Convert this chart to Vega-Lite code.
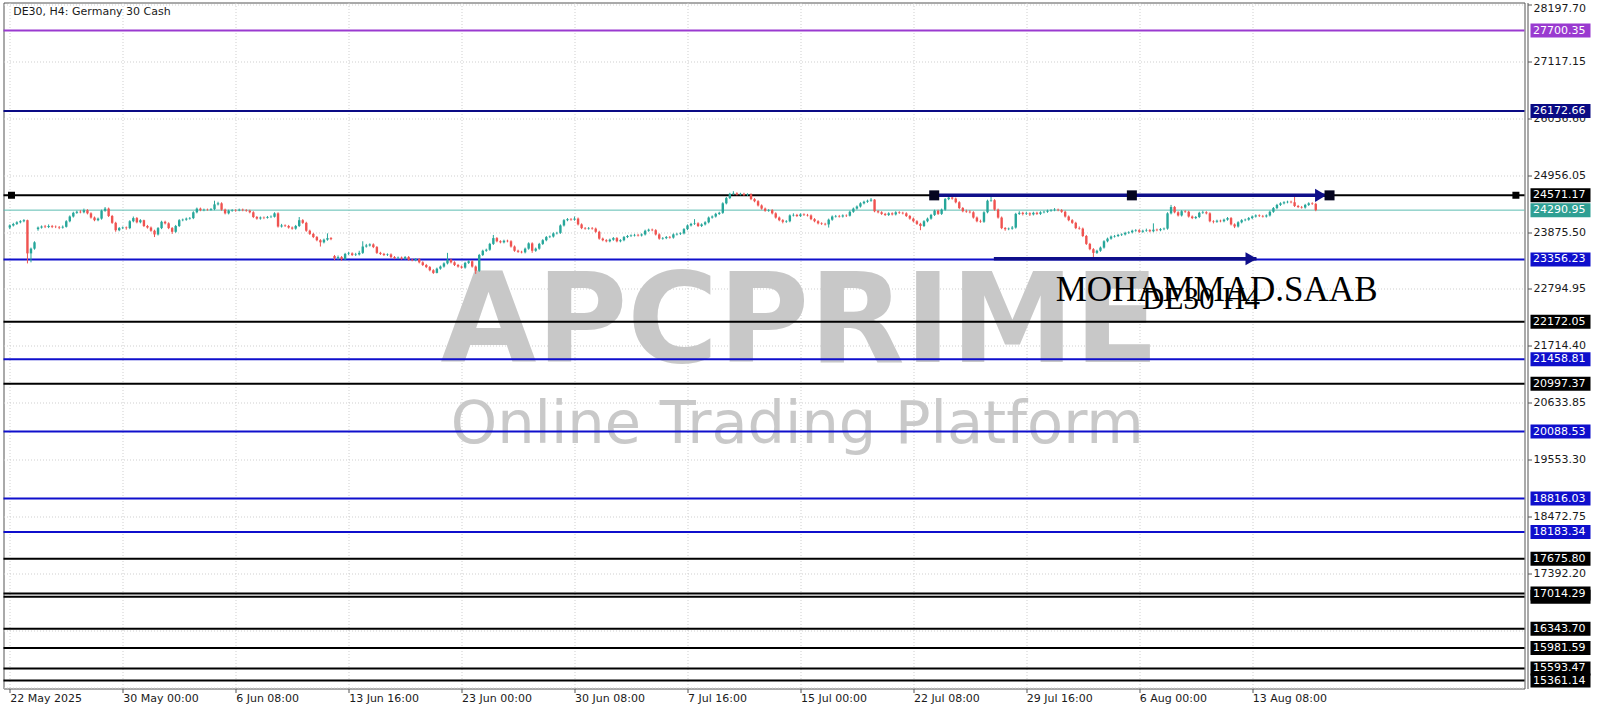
{
"$schema": "https://vega.github.io/schema/vega-lite/v6.json",
"background": "#ffffff",
"padding": {"left": 1.5, "top": 1.5, "right": 0, "bottom": 0},
"spacing": 0,
"config": {"view": {"stroke": null}, "font": "DejaVu Sans"},
"resolve": {"scale": {"x": "independent", "y": "independent"}},
"datasets": {
"levels": [
{"p":27700.35,"k":"purple"},{"p":26172.66,"k":"navy"},{"p":24571.17,"k":"black"},{"p":24290.95,"k":"bid"},{"p":23356.23,"k":"blue"},{"p":22172.05,"k":"black"},{"p":21458.81,"k":"blue"},{"p":20997.37,"k":"black"},{"p":20088.53,"k":"blue"},{"p":18816.03,"k":"blue"},{"p":18183.34,"k":"blue"},{"p":17675.80,"k":"black"},{"p":16955.00,"k":"black"},{"p":17014.29,"k":"black"},{"p":16343.70,"k":"black"},{"p":15981.59,"k":"black"},{"p":15593.47,"k":"black"},{"p":15361.14,"k":"black"}
],
"arrows": [{"x1":261.9,"x2":373.9,"p":24571.17},{"x1":278.8,"x2":353.2,"p":23370}],
"heads": [{"x":371.4,"p":24571.17},{"x":351.7,"p":23370}],
"handles": [{"x":261.9,"p":24571.17},{"x":317.9,"p":24571.17},{"x":373.9,"p":24571.17}],
"edges": [{"x":0.48,"p":24571.17},{"x":426.7,"p":24571.17}],
"candles": [
{"i":0,"o":23960,"h":24020,"l":23930,"c":24000},{"i":1,"o":24000,"h":24050,"l":23980,"c":24030},{"i":2,"o":24030,"h":24080,"l":24010,"c":24060},{"i":3,"o":24060,"h":24100,"l":24040,"c":24080},{"i":4,"o":24080,"h":24120,"l":24060,"c":24100},{"i":5,"o":24100,"h":24110,"l":23280,"c":23470},{"i":6,"o":23470,"h":23580,"l":23300,"c":23560},{"i":7,"o":23560,"h":23700,"l":23540,"c":23680},{"i":8,"o":23930,"h":23980,"l":23900,"c":23960},{"i":9,"o":23960,"h":24000,"l":23940,"c":23980},
{"i":10,"o":23980,"h":24010,"l":23950,"c":23970},{"i":11,"o":23970,"h":24020,"l":23950,"c":23990},{"i":12,"o":23990,"h":24010,"l":23950,"c":23975},{"i":13,"o":23975,"h":24000,"l":23950,"c":23970},{"i":14,"o":23970,"h":23990,"l":23930,"c":23960},{"i":15,"o":23960,"h":24000,"l":23940,"c":23975},{"i":16,"o":23975,"h":24100,"l":23960,"c":24080},{"i":17,"o":24080,"h":24190,"l":24060,"c":24170},{"i":18,"o":24170,"h":24260,"l":24150,"c":24240},{"i":19,"o":24240,"h":24280,"l":24220,"c":24260},
{"i":20,"o":24260,"h":24290,"l":24230,"c":24250},{"i":21,"o":24250,"h":24320,"l":24230,"c":24290},{"i":22,"o":24290,"h":24310,"l":24210,"c":24230},{"i":23,"o":24230,"h":24250,"l":24130,"c":24150},{"i":24,"o":24150,"h":24170,"l":24080,"c":24100},{"i":25,"o":24100,"h":24150,"l":24080,"c":24130},{"i":26,"o":24130,"h":24300,"l":24110,"c":24280},{"i":27,"o":24280,"h":24350,"l":24260,"c":24320},{"i":28,"o":24320,"h":24340,"l":24160,"c":24180},{"i":29,"o":24180,"h":24200,"l":24030,"c":24050},
{"i":30,"o":24050,"h":24070,"l":23880,"c":23910},{"i":31,"o":23910,"h":23970,"l":23890,"c":23950},{"i":32,"o":23950,"h":23980,"l":23930,"c":23960},{"i":33,"o":23960,"h":23980,"l":23920,"c":23950},{"i":34,"o":23950,"h":24100,"l":23930,"c":24080},{"i":35,"o":24080,"h":24170,"l":24060,"c":24140},{"i":36,"o":24140,"h":24160,"l":24040,"c":24060},{"i":37,"o":24060,"h":24120,"l":24040,"c":24100},{"i":38,"o":24100,"h":24110,"l":23970,"c":23990},{"i":39,"o":23990,"h":24010,"l":23940,"c":23960},
{"i":40,"o":23960,"h":23980,"l":23880,"c":23900},{"i":41,"o":23900,"h":23920,"l":23780,"c":23830},{"i":42,"o":23830,"h":23970,"l":23810,"c":23950},{"i":43,"o":23950,"h":24090,"l":23930,"c":24070},{"i":44,"o":24070,"h":24090,"l":24020,"c":24040},{"i":45,"o":24040,"h":24060,"l":23930,"c":23950},{"i":46,"o":23950,"h":23970,"l":23840,"c":23880},{"i":47,"o":23880,"h":24010,"l":23860,"c":23990},{"i":48,"o":23990,"h":24120,"l":23970,"c":24100},{"i":49,"o":24100,"h":24130,"l":24080,"c":24110},
{"i":50,"o":24110,"h":24150,"l":24090,"c":24130},{"i":51,"o":24130,"h":24160,"l":24110,"c":24140},{"i":52,"o":24140,"h":24270,"l":24120,"c":24250},{"i":53,"o":24250,"h":24340,"l":24230,"c":24320},{"i":54,"o":24320,"h":24340,"l":24270,"c":24290},{"i":55,"o":24290,"h":24320,"l":24270,"c":24300},{"i":56,"o":24300,"h":24320,"l":24280,"c":24295},{"i":57,"o":24295,"h":24330,"l":24280,"c":24310},{"i":58,"o":24310,"h":24470,"l":24290,"c":24400},{"i":59,"o":24400,"h":24450,"l":24380,"c":24420},
{"i":60,"o":24420,"h":24440,"l":24280,"c":24300},{"i":61,"o":24300,"h":24320,"l":24210,"c":24230},{"i":62,"o":24230,"h":24300,"l":24210,"c":24280},{"i":63,"o":24280,"h":24310,"l":24260,"c":24290},{"i":64,"o":24290,"h":24310,"l":24260,"c":24285},{"i":65,"o":24285,"h":24320,"l":24270,"c":24300},{"i":66,"o":24300,"h":24320,"l":24270,"c":24290},{"i":67,"o":24290,"h":24310,"l":24260,"c":24280},{"i":68,"o":24280,"h":24300,"l":24230,"c":24250},{"i":69,"o":24250,"h":24270,"l":24140,"c":24160},
{"i":70,"o":24160,"h":24180,"l":24110,"c":24130},{"i":71,"o":24130,"h":24170,"l":24110,"c":24150},{"i":72,"o":24150,"h":24170,"l":24120,"c":24145},{"i":73,"o":24145,"h":24180,"l":24130,"c":24160},{"i":74,"o":24160,"h":24190,"l":24140,"c":24165},{"i":75,"o":24165,"h":24250,"l":24150,"c":24230},{"i":76,"o":24230,"h":24250,"l":23960,"c":23980},{"i":77,"o":23980,"h":24030,"l":23960,"c":24000},{"i":78,"o":24000,"h":24020,"l":23970,"c":23990},{"i":79,"o":23990,"h":24010,"l":23940,"c":23960},
{"i":80,"o":23960,"h":23980,"l":23920,"c":23940},{"i":81,"o":23940,"h":24010,"l":23920,"c":23990},{"i":82,"o":23990,"h":24160,"l":23970,"c":24100},{"i":83,"o":24100,"h":24120,"l":24030,"c":24050},{"i":84,"o":24050,"h":24070,"l":23880,"c":23900},{"i":85,"o":23900,"h":23920,"l":23820,"c":23840},{"i":86,"o":23840,"h":23860,"l":23760,"c":23780},{"i":87,"o":23780,"h":23800,"l":23700,"c":23720},{"i":88,"o":23720,"h":23740,"l":23600,"c":23680},{"i":89,"o":23680,"h":23750,"l":23660,"c":23730},
{"i":90,"o":23730,"h":23850,"l":23710,"c":23760},{"i":91,"o":23760,"h":23780,"l":23720,"c":23740},{"i":92,"o":23420,"h":23440,"l":23340,"c":23380},{"i":93,"o":23380,"h":23430,"l":23350,"c":23400},{"i":94,"o":23400,"h":23420,"l":23330,"c":23360},{"i":95,"o":23360,"h":23480,"l":23340,"c":23460},{"i":96,"o":23460,"h":23500,"l":23440,"c":23470},{"i":97,"o":23470,"h":23490,"l":23420,"c":23440},{"i":98,"o":23440,"h":23480,"l":23420,"c":23450},{"i":99,"o":23450,"h":23520,"l":23430,"c":23480},
{"i":100,"o":23480,"h":23700,"l":23460,"c":23600},{"i":101,"o":23600,"h":23650,"l":23580,"c":23620},{"i":102,"o":23620,"h":23660,"l":23600,"c":23640},{"i":103,"o":23640,"h":23660,"l":23570,"c":23590},{"i":104,"o":23590,"h":23610,"l":23460,"c":23480},{"i":105,"o":23480,"h":23500,"l":23440,"c":23460},{"i":106,"o":23460,"h":23480,"l":23420,"c":23440},{"i":107,"o":23440,"h":23470,"l":23420,"c":23450},{"i":108,"o":23450,"h":23470,"l":23380,"c":23400},{"i":109,"o":23400,"h":23420,"l":23360,"c":23380},
{"i":110,"o":23380,"h":23410,"l":23360,"c":23390},{"i":111,"o":23390,"h":23410,"l":23350,"c":23370},{"i":112,"o":23370,"h":23420,"l":23350,"c":23400},{"i":113,"o":23400,"h":23420,"l":23330,"c":23350},{"i":114,"o":23350,"h":23370,"l":23320,"c":23340},{"i":115,"o":23340,"h":23380,"l":23320,"c":23360},{"i":116,"o":23360,"h":23380,"l":23280,"c":23300},{"i":117,"o":23300,"h":23320,"l":23230,"c":23250},{"i":118,"o":23250,"h":23270,"l":23190,"c":23210},{"i":119,"o":23210,"h":23230,"l":23130,"c":23150},
{"i":120,"o":23150,"h":23170,"l":23080,"c":23100},{"i":121,"o":23100,"h":23200,"l":23090,"c":23180},{"i":122,"o":23180,"h":23240,"l":23160,"c":23220},{"i":123,"o":23220,"h":23300,"l":23200,"c":23280},{"i":124,"o":23280,"h":23480,"l":23260,"c":23350},{"i":125,"o":23350,"h":23370,"l":23280,"c":23300},{"i":126,"o":23300,"h":23320,"l":23230,"c":23250},{"i":127,"o":23250,"h":23270,"l":23200,"c":23220},{"i":128,"o":23220,"h":23240,"l":23180,"c":23200},{"i":129,"o":23200,"h":23310,"l":23180,"c":23290},
{"i":130,"o":23290,"h":23340,"l":23270,"c":23320},{"i":131,"o":23320,"h":23340,"l":23200,"c":23220},{"i":132,"o":23220,"h":23240,"l":23080,"c":23140},{"i":133,"o":23140,"h":23460,"l":23120,"c":23440},{"i":134,"o":23440,"h":23540,"l":23420,"c":23520},{"i":135,"o":23520,"h":23560,"l":23500,"c":23540},{"i":136,"o":23540,"h":23670,"l":23520,"c":23650},{"i":137,"o":23650,"h":23820,"l":23630,"c":23760},{"i":138,"o":23760,"h":23780,"l":23680,"c":23700},{"i":139,"o":23700,"h":23720,"l":23660,"c":23680},
{"i":140,"o":23680,"h":23730,"l":23660,"c":23710},{"i":141,"o":23710,"h":23730,"l":23680,"c":23700},{"i":142,"o":23700,"h":23720,"l":23580,"c":23600},{"i":143,"o":23600,"h":23620,"l":23500,"c":23520},{"i":144,"o":23520,"h":23540,"l":23480,"c":23500},{"i":145,"o":23500,"h":23520,"l":23470,"c":23490},{"i":146,"o":23490,"h":23580,"l":23470,"c":23560},{"i":147,"o":23560,"h":23680,"l":23540,"c":23660},{"i":148,"o":23660,"h":23680,"l":23480,"c":23520},{"i":149,"o":23520,"h":23580,"l":23500,"c":23560},
{"i":150,"o":23560,"h":23670,"l":23540,"c":23650},{"i":151,"o":23650,"h":23740,"l":23630,"c":23720},{"i":152,"o":23720,"h":23800,"l":23700,"c":23780},{"i":153,"o":23780,"h":23810,"l":23760,"c":23790},{"i":154,"o":23790,"h":23870,"l":23770,"c":23850},{"i":155,"o":23850,"h":23880,"l":23830,"c":23860},{"i":156,"o":23860,"h":24020,"l":23840,"c":24000},{"i":157,"o":24000,"h":24120,"l":23980,"c":24100},{"i":158,"o":24100,"h":24140,"l":24080,"c":24120},{"i":159,"o":24120,"h":24140,"l":24090,"c":24110},
{"i":160,"o":24110,"h":24170,"l":24090,"c":24130},{"i":161,"o":24130,"h":24150,"l":24000,"c":24020},{"i":162,"o":24020,"h":24040,"l":23930,"c":23950},{"i":163,"o":23950,"h":23970,"l":23920,"c":23940},{"i":164,"o":23940,"h":23970,"l":23920,"c":23950},{"i":165,"o":23950,"h":23970,"l":23920,"c":23940},{"i":166,"o":23940,"h":23960,"l":23860,"c":23880},{"i":167,"o":23880,"h":23900,"l":23730,"c":23750},{"i":168,"o":23750,"h":23770,"l":23700,"c":23720},{"i":169,"o":23720,"h":23740,"l":23680,"c":23700},
{"i":170,"o":23700,"h":23750,"l":23680,"c":23730},{"i":171,"o":23730,"h":23780,"l":23710,"c":23760},{"i":172,"o":23760,"h":23780,"l":23680,"c":23700},{"i":173,"o":23700,"h":23740,"l":23680,"c":23720},{"i":174,"o":23720,"h":23800,"l":23700,"c":23780},{"i":175,"o":23780,"h":23820,"l":23760,"c":23800},{"i":176,"o":23800,"h":23830,"l":23780,"c":23810},{"i":177,"o":23810,"h":23840,"l":23790,"c":23820},{"i":178,"o":23820,"h":23840,"l":23790,"c":23810},{"i":179,"o":23810,"h":23850,"l":23790,"c":23830},
{"i":180,"o":23830,"h":23920,"l":23810,"c":23900},{"i":181,"o":23900,"h":23940,"l":23880,"c":23920},{"i":182,"o":23920,"h":23940,"l":23890,"c":23910},{"i":183,"o":23910,"h":23930,"l":23810,"c":23830},{"i":184,"o":23830,"h":23850,"l":23730,"c":23750},{"i":185,"o":23750,"h":23780,"l":23730,"c":23760},{"i":186,"o":23760,"h":23800,"l":23740,"c":23780},{"i":187,"o":23780,"h":23800,"l":23750,"c":23770},{"i":188,"o":23770,"h":23850,"l":23750,"c":23830},{"i":189,"o":23830,"h":23860,"l":23810,"c":23840},
{"i":190,"o":23840,"h":23870,"l":23820,"c":23850},{"i":191,"o":23850,"h":23950,"l":23830,"c":23930},{"i":192,"o":23930,"h":24020,"l":23910,"c":24000},{"i":193,"o":24000,"h":24050,"l":23980,"c":24030},{"i":194,"o":24030,"h":24120,"l":24010,"c":24040},{"i":195,"o":24040,"h":24060,"l":23970,"c":23990},{"i":196,"o":23990,"h":24040,"l":23970,"c":24020},{"i":197,"o":24020,"h":24080,"l":24000,"c":24060},{"i":198,"o":24060,"h":24170,"l":24040,"c":24150},{"i":199,"o":24150,"h":24190,"l":24130,"c":24170},
{"i":200,"o":24170,"h":24240,"l":24150,"c":24220},{"i":201,"o":24220,"h":24260,"l":24200,"c":24240},{"i":202,"o":24240,"h":24440,"l":24220,"c":24420},{"i":203,"o":24420,"h":24540,"l":24400,"c":24520},{"i":204,"o":24520,"h":24620,"l":24500,"c":24600},{"i":205,"o":24600,"h":24650,"l":24580,"c":24610},{"i":206,"o":24610,"h":24630,"l":24570,"c":24590},{"i":207,"o":24590,"h":24620,"l":24570,"c":24600},{"i":208,"o":24600,"h":24620,"l":24560,"c":24580},{"i":209,"o":24580,"h":24610,"l":24560,"c":24590},
{"i":210,"o":24590,"h":24610,"l":24480,"c":24500},{"i":211,"o":24500,"h":24520,"l":24440,"c":24460},{"i":212,"o":24460,"h":24480,"l":24360,"c":24380},{"i":213,"o":24380,"h":24400,"l":24300,"c":24320},{"i":214,"o":24320,"h":24340,"l":24260,"c":24280},{"i":215,"o":24280,"h":24310,"l":24260,"c":24290},{"i":216,"o":24290,"h":24310,"l":24210,"c":24230},{"i":217,"o":24230,"h":24250,"l":24130,"c":24150},{"i":218,"o":24150,"h":24170,"l":24080,"c":24100},{"i":219,"o":24100,"h":24120,"l":24040,"c":24070},
{"i":220,"o":24070,"h":24100,"l":24050,"c":24080},{"i":221,"o":24080,"h":24210,"l":24060,"c":24190},{"i":222,"o":24190,"h":24230,"l":24170,"c":24200},{"i":223,"o":24200,"h":24220,"l":24160,"c":24180},{"i":224,"o":24180,"h":24230,"l":24160,"c":24210},{"i":225,"o":24210,"h":24230,"l":24180,"c":24200},{"i":226,"o":24200,"h":24220,"l":24170,"c":24190},{"i":227,"o":24190,"h":24210,"l":24100,"c":24120},{"i":228,"o":24120,"h":24140,"l":24060,"c":24080},{"i":229,"o":24080,"h":24100,"l":24020,"c":24040},
{"i":230,"o":24040,"h":24060,"l":24010,"c":24030},{"i":231,"o":24030,"h":24050,"l":24000,"c":24020},{"i":232,"o":24020,"h":24130,"l":23960,"c":24110},{"i":233,"o":24110,"h":24190,"l":24090,"c":24170},{"i":234,"o":24170,"h":24200,"l":24150,"c":24180},{"i":235,"o":24180,"h":24200,"l":24150,"c":24170},{"i":236,"o":24170,"h":24210,"l":24150,"c":24190},{"i":237,"o":24190,"h":24210,"l":24160,"c":24185},{"i":238,"o":24185,"h":24280,"l":24170,"c":24260},{"i":239,"o":24260,"h":24340,"l":24240,"c":24320},
{"i":240,"o":24320,"h":24380,"l":24300,"c":24360},{"i":241,"o":24360,"h":24440,"l":24340,"c":24420},{"i":242,"o":24420,"h":24470,"l":24400,"c":24450},{"i":243,"o":24450,"h":24490,"l":24430,"c":24470},{"i":244,"o":24470,"h":24520,"l":24450,"c":24490},{"i":245,"o":24490,"h":24500,"l":24250,"c":24270},{"i":246,"o":24270,"h":24290,"l":24230,"c":24250},{"i":247,"o":24250,"h":24270,"l":24200,"c":24220},{"i":248,"o":24220,"h":24240,"l":24180,"c":24200},{"i":249,"o":24200,"h":24250,"l":24180,"c":24230},
{"i":250,"o":24230,"h":24250,"l":24190,"c":24210},{"i":251,"o":24210,"h":24270,"l":24190,"c":24250},{"i":252,"o":24250,"h":24270,"l":24220,"c":24240},{"i":253,"o":24240,"h":24260,"l":24210,"c":24230},{"i":254,"o":24230,"h":24250,"l":24160,"c":24180},{"i":255,"o":24180,"h":24200,"l":24110,"c":24130},{"i":256,"o":24130,"h":24150,"l":24060,"c":24080},{"i":257,"o":24080,"h":24100,"l":24010,"c":24030},{"i":258,"o":24030,"h":24050,"l":23910,"c":23990},{"i":259,"o":23990,"h":24100,"l":23970,"c":24080},
{"i":260,"o":24080,"h":24150,"l":24060,"c":24130},{"i":261,"o":24130,"h":24220,"l":24110,"c":24200},{"i":262,"o":24200,"h":24300,"l":24180,"c":24280},{"i":263,"o":24280,"h":24300,"l":24200,"c":24220},{"i":264,"o":24220,"h":24320,"l":24200,"c":24300},{"i":265,"o":24300,"h":24520,"l":24280,"c":24500},{"i":266,"o":24500,"h":24580,"l":24480,"c":24530},{"i":267,"o":24530,"h":24550,"l":24490,"c":24510},{"i":268,"o":24510,"h":24530,"l":24420,"c":24440},{"i":269,"o":24440,"h":24460,"l":24310,"c":24330},
{"i":270,"o":24330,"h":24350,"l":24250,"c":24270},{"i":271,"o":24270,"h":24300,"l":24240,"c":24260},{"i":272,"o":24260,"h":24290,"l":24230,"c":24250},{"i":273,"o":24250,"h":24270,"l":24130,"c":24150},{"i":274,"o":24150,"h":24170,"l":24060,"c":24080},{"i":275,"o":24080,"h":24110,"l":24050,"c":24070},{"i":276,"o":24070,"h":24270,"l":24050,"c":24250},{"i":277,"o":24250,"h":24490,"l":24230,"c":24470},{"i":278,"o":24470,"h":24540,"l":24450,"c":24480},{"i":279,"o":24480,"h":24500,"l":24280,"c":24300},
{"i":280,"o":24300,"h":24320,"l":24130,"c":24150},{"i":281,"o":24150,"h":24170,"l":23930,"c":23950},{"i":282,"o":23950,"h":23970,"l":23900,"c":23930},{"i":283,"o":23930,"h":23960,"l":23910,"c":23940},{"i":284,"o":23940,"h":23990,"l":23920,"c":23960},{"i":285,"o":23960,"h":24240,"l":23940,"c":24220},{"i":286,"o":24220,"h":24270,"l":24200,"c":24240},{"i":287,"o":24240,"h":24260,"l":24190,"c":24220},{"i":288,"o":24220,"h":24260,"l":24200,"c":24230},{"i":289,"o":24230,"h":24250,"l":24180,"c":24210},
{"i":290,"o":24210,"h":24260,"l":24190,"c":24240},{"i":291,"o":24240,"h":24260,"l":24200,"c":24220},{"i":292,"o":24220,"h":24270,"l":24200,"c":24250},{"i":293,"o":24250,"h":24280,"l":24230,"c":24260},{"i":294,"o":24260,"h":24300,"l":24240,"c":24280},{"i":295,"o":24280,"h":24310,"l":24260,"c":24290},{"i":296,"o":24290,"h":24330,"l":24270,"c":24300},{"i":297,"o":24300,"h":24320,"l":24270,"c":24290},{"i":298,"o":24290,"h":24310,"l":24240,"c":24260},{"i":299,"o":24260,"h":24280,"l":24150,"c":24170},
{"i":300,"o":24170,"h":24190,"l":24080,"c":24100},{"i":301,"o":24100,"h":24120,"l":24030,"c":24050},{"i":302,"o":24050,"h":24070,"l":23930,"c":23950},{"i":303,"o":23950,"h":23980,"l":23920,"c":23940},{"i":304,"o":23940,"h":23960,"l":23780,"c":23800},{"i":305,"o":23800,"h":23820,"l":23630,"c":23650},{"i":306,"o":23650,"h":23670,"l":23530,"c":23550},{"i":307,"o":23550,"h":23570,"l":23400,"c":23480},{"i":308,"o":23480,"h":23540,"l":23460,"c":23520},{"i":309,"o":23520,"h":23600,"l":23500,"c":23580},
{"i":310,"o":23580,"h":23720,"l":23560,"c":23700},{"i":311,"o":23700,"h":23770,"l":23680,"c":23750},{"i":312,"o":23750,"h":23810,"l":23730,"c":23790},{"i":313,"o":23790,"h":23820,"l":23770,"c":23800},{"i":314,"o":23800,"h":23840,"l":23780,"c":23820},{"i":315,"o":23820,"h":23850,"l":23800,"c":23830},{"i":316,"o":23830,"h":23880,"l":23810,"c":23860},{"i":317,"o":23860,"h":23890,"l":23840,"c":23870},{"i":318,"o":23870,"h":23920,"l":23850,"c":23900},{"i":319,"o":23900,"h":23930,"l":23880,"c":23910},
{"i":320,"o":23910,"h":23930,"l":23860,"c":23880},{"i":321,"o":23880,"h":23920,"l":23860,"c":23900},{"i":322,"o":23900,"h":23940,"l":23880,"c":23910},{"i":323,"o":23910,"h":23930,"l":23870,"c":23890},{"i":324,"o":23890,"h":24040,"l":23870,"c":23920},{"i":325,"o":23920,"h":23940,"l":23890,"c":23910},{"i":326,"o":23910,"h":23950,"l":23890,"c":23930},{"i":327,"o":23930,"h":23960,"l":23910,"c":23940},{"i":328,"o":23940,"h":24250,"l":23920,"c":24230},{"i":329,"o":24230,"h":24390,"l":24210,"c":24350},
{"i":330,"o":24350,"h":24370,"l":24230,"c":24250},{"i":331,"o":24250,"h":24270,"l":24170,"c":24190},{"i":332,"o":24190,"h":24290,"l":24170,"c":24270},{"i":333,"o":24270,"h":24290,"l":24240,"c":24260},{"i":334,"o":24260,"h":24280,"l":24150,"c":24170},{"i":335,"o":24170,"h":24190,"l":24120,"c":24140},{"i":336,"o":24140,"h":24180,"l":24120,"c":24160},{"i":337,"o":24160,"h":24260,"l":24140,"c":24240},{"i":338,"o":24240,"h":24280,"l":24220,"c":24250},{"i":339,"o":24250,"h":24270,"l":24210,"c":24230},
{"i":340,"o":24230,"h":24250,"l":24060,"c":24080},{"i":341,"o":24080,"h":24100,"l":24040,"c":24070},{"i":342,"o":24070,"h":24110,"l":24050,"c":24090},{"i":343,"o":24090,"h":24110,"l":24060,"c":24080},{"i":344,"o":24080,"h":24130,"l":24060,"c":24110},{"i":345,"o":24110,"h":24160,"l":24090,"c":24140},{"i":346,"o":24140,"h":24160,"l":24000,"c":24020},{"i":347,"o":24020,"h":24040,"l":23950,"c":23980},{"i":348,"o":23980,"h":24080,"l":23960,"c":24060},{"i":349,"o":24060,"h":24120,"l":24040,"c":24100},
{"i":350,"o":24100,"h":24130,"l":24080,"c":24110},{"i":351,"o":24110,"h":24160,"l":24090,"c":24140},{"i":352,"o":24140,"h":24190,"l":24120,"c":24170},{"i":353,"o":24170,"h":24210,"l":24150,"c":24190},{"i":354,"o":24190,"h":24210,"l":24160,"c":24180},{"i":355,"o":24180,"h":24200,"l":24150,"c":24170},{"i":356,"o":24170,"h":24210,"l":24150,"c":24190},{"i":357,"o":24190,"h":24280,"l":24170,"c":24260},{"i":358,"o":24260,"h":24350,"l":24240,"c":24330},{"i":359,"o":24330,"h":24410,"l":24310,"c":24390},
{"i":360,"o":24390,"h":24440,"l":24370,"c":24420},{"i":361,"o":24420,"h":24460,"l":24400,"c":24440},{"i":362,"o":24440,"h":24470,"l":24420,"c":24450},{"i":363,"o":24450,"h":24470,"l":24420,"c":24440},{"i":364,"o":24440,"h":24540,"l":24350,"c":24370},{"i":365,"o":24370,"h":24390,"l":24330,"c":24350},{"i":366,"o":24350,"h":24370,"l":24320,"c":24340},{"i":367,"o":24340,"h":24410,"l":24320,"c":24390},{"i":368,"o":24390,"h":24440,"l":24370,"c":24420},{"i":369,"o":24420,"h":24440,"l":24390,"c":24410},
{"i":370,"o":24410,"h":24430,"l":24270,"c":24290.95}
]
},
"hconcat": [
{
"width": 1521, "height": 686,
"view": {"stroke": "#555555", "strokeWidth": 1},
"layer": [
{
"data": {"values": [{}]},
"mark": {"type": "text", "text": "APCPRIME", "font": "DejaVu Sans", "fontWeight": "bold", "fontSize": 124, "color": "#c8c8c8", "align": "center", "baseline": "alphabetic"},
"encoding": {
"x": {"datum": 223.8, "type": "quantitative", "scale": {"domain": [-0.366, 427.72], "nice": false, "zero": false}},
"y": {"datum": 21399, "type": "quantitative", "scale": {"domain": [15211.5, 28231.8], "nice": false, "zero": false}}
}
},
{
"data": {"values": [{}]},
"mark": {"type": "text", "text": "Online Trading Platform", "font": "DejaVu Sans", "fontSize": 59, "color": "#c9c9c9", "align": "center", "baseline": "alphabetic"},
"encoding": {
"x": {"datum": 223.1, "type": "quantitative"},
"y": {"datum": 19880, "type": "quantitative"}
}
},
{
"data": {"name": "levels"},
"transform": [{"filter": "datum.k != 'bid'"}],
"mark": {"type": "rule", "strokeWidth": 2},
"encoding": {
"y": {"field": "p", "type": "quantitative"},
"color": {"field": "k", "type": "nominal", "scale": {"domain": ["purple", "navy", "black", "bid", "blue"], "range": ["#9a3ad0", "#0a0a84", "#000000", "#2f9f93", "#0f0fcc"]}, "legend": null}
}
},
{
"data": {"name": "levels"},
"transform": [{"filter": "datum.k == 'bid'"}],
"mark": {"type": "rule", "strokeWidth": 1, "color": "#5cbcb2"},
"encoding": {"y": {"field": "p", "type": "quantitative"}}
},
{
"data": {"name": "candles"},
"mark": {"type": "rule", "strokeWidth": 1},
"encoding": {
"x": {"field": "i", "type": "quantitative", "axis": {"values": [0, 32, 64, 96, 128, 160, 192, 224, 256, 288, 320, 352], "labelExpr": "['22 May 2025','30 May 00:00','6 Jun 08:00','13 Jun 16:00','23 Jun 00:00','30 Jun 08:00','7 Jul 16:00','15 Jul 00:00','22 Jul 08:00','29 Jul 16:00','6 Aug 00:00','13 Aug 08:00'][round(datum.value/32)]", "labelAlign": "left", "labelBaseline": "top", "labelPadding": 0, "tickSize": 4, "tickColor": "#555555", "domain": false, "grid": true, "gridDash": [1, 2], "gridColor": "#cfcfcf", "title": null, "labelFont": "DejaVu Sans", "labelFontSize": 11, "labelColor": "#1a1a1a", "labelFlush": false, "labelOverlap": false}},
"y": {"field": "l", "type": "quantitative", "axis": {"values": [28197.7, 27117.15, 26036.6, 24956.05, 23875.5, 22794.95, 21714.4, 20633.85, 19553.3, 18472.75, 17392.2, 16311.65, 15231.1], "grid": true, "gridDash": [1, 2], "gridColor": "#cfcfcf", "labels": false, "ticks": false, "domain": false, "title": null, "minExtent": 0, "maxExtent": 0}},
"y2": {"field": "h"},
"color": {"condition": {"test": "datum.c >= datum.o", "value": "#26a69a"}, "value": "#ef5350"}
}
},
{
"data": {"name": "candles"},
"mark": {"type": "bar", "width": 2.4},
"encoding": {
"x": {"field": "i", "type": "quantitative"},
"y": {"field": "o", "type": "quantitative"},
"y2": {"field": "c"},
"color": {"condition": {"test": "datum.c >= datum.o", "value": "#26a69a"}, "value": "#ef5350"}
}
},
{
"data": {"name": "arrows"},
"mark": {"type": "rule", "strokeWidth": 3.5, "color": "#0f0f8a"},
"encoding": {
"x": {"field": "x1", "type": "quantitative"},
"x2": {"field": "x2"},
"y": {"field": "p", "type": "quantitative"}
}
},
{
"data": {"name": "heads"},
"mark": {"type": "point", "shape": "triangle-right", "filled": true, "size": 170, "opacity": 1, "color": "#0f0f8a"},
"encoding": {
"x": {"field": "x", "type": "quantitative"},
"y": {"field": "p", "type": "quantitative"}
}
},
{
"data": {"name": "handles"},
"mark": {"type": "square", "filled": true, "size": 100, "opacity": 1, "color": "#050520"},
"encoding": {
"x": {"field": "x", "type": "quantitative"},
"y": {"field": "p", "type": "quantitative"}
}
},
{
"data": {"name": "edges"},
"mark": {"type": "square", "filled": true, "size": 49, "opacity": 1, "color": "#000000", "clip": true},
"encoding": {
"x": {"field": "x", "type": "quantitative"},
"y": {"field": "p", "type": "quantitative"}
}
},
{
"data": {"values": [{}]},
"mark": {"type": "text", "text": "MOHAMMAD.SAAB", "font": "Liberation Serif", "fontSize": 35, "color": "#000000", "align": "left", "baseline": "alphabetic"},
"encoding": {
"x": {"datum": 296.3, "type": "quantitative"},
"y": {"datum": 22564, "type": "quantitative"}
}
},
{
"data": {"values": [{}]},
"mark": {"type": "text", "text": "DE30 H4", "font": "Liberation Serif", "fontSize": 31, "color": "#000000", "align": "left", "baseline": "alphabetic"},
"encoding": {
"x": {"datum": 320.8, "type": "quantitative"},
"y": {"datum": 22421, "type": "quantitative"}
}
},
{
"data": {"values": [{}]},
"mark": {"type": "text", "text": "DE30, H4:  Germany 30 Cash", "font": "DejaVu Sans", "fontSize": 11, "color": "#1a1a1a", "align": "left", "baseline": "middle"},
"encoding": {
"x": {"datum": 0.96, "type": "quantitative"},
"y": {"datum": 28042, "type": "quantitative"}
}
}
]
},
{
"width": 77, "height": 686,
"layer": [
{
"data": {"name": "levels"},
"transform": [{"filter": "datum.p == 16955"}],
"mark": {"type": "tick", "orient": "horizontal", "size": 60, "thickness": 14, "opacity": 1, "color": "#000000"},
"encoding": {
"x": {"datum": 0.4286, "type": "quantitative", "scale": {"domain": [0, 1], "nice": false, "zero": false}, "axis": null},
"y": {"field": "p", "type": "quantitative", "scale": {"domain": [15211.5, 28231.8], "nice": false, "zero": false}, "axis": {"orient": "left", "values": [28197.7, 27117.15, 26036.6, 24956.05, 23875.5, 22794.95, 21714.4, 20633.85, 19553.3, 18472.75, 17392.2], "format": ".2f", "tickSize": -4, "labelPadding": -1.5, "labelAlign": "left", "labelFont": "DejaVu Sans", "labelFontSize": 11, "labelColor": "#1a1a1a", "tickColor": "#555555", "domainColor": "#555555", "grid": false, "title": null, "labelFlush": 3, "labelFlushOffset": 1.5, "labelOverlap": false, "minExtent": 0, "maxExtent": 0}}
}
},
{
"data": {"name": "levels"},
"transform": [{"filter": "datum.p == 16955"}],
"mark": {"type": "text", "align": "left", "baseline": "middle", "font": "DejaVu Sans", "fontSize": 11, "color": "#ffffff"},
"encoding": {
"x": {"datum": 0.0714, "type": "quantitative"},
"y": {"field": "p", "type": "quantitative"},
"text": {"field": "p", "type": "quantitative", "format": ".2f"}
}
},
{
"data": {"name": "levels"},
"transform": [{"filter": "datum.p != 16955"}],
"mark": {"type": "tick", "orient": "horizontal", "size": 60, "thickness": 14, "opacity": 1},
"encoding": {
"x": {"datum": 0.4286, "type": "quantitative"},
"y": {"field": "p", "type": "quantitative"},
"color": {"field": "k", "type": "nominal", "scale": {"domain": ["purple", "navy", "black", "bid", "blue"], "range": ["#9a3ad0", "#0a0a84", "#000000", "#2f9f93", "#0f0fcc"]}, "legend": null}
}
},
{
"data": {"name": "levels"},
"transform": [{"filter": "datum.p != 16955"}],
"mark": {"type": "text", "align": "left", "baseline": "middle", "font": "DejaVu Sans", "fontSize": 11, "color": "#ffffff"},
"encoding": {
"x": {"datum": 0.0714, "type": "quantitative"},
"y": {"field": "p", "type": "quantitative"},
"text": {"field": "p", "type": "quantitative", "format": ".2f"}
}
}
]
}
]
}
